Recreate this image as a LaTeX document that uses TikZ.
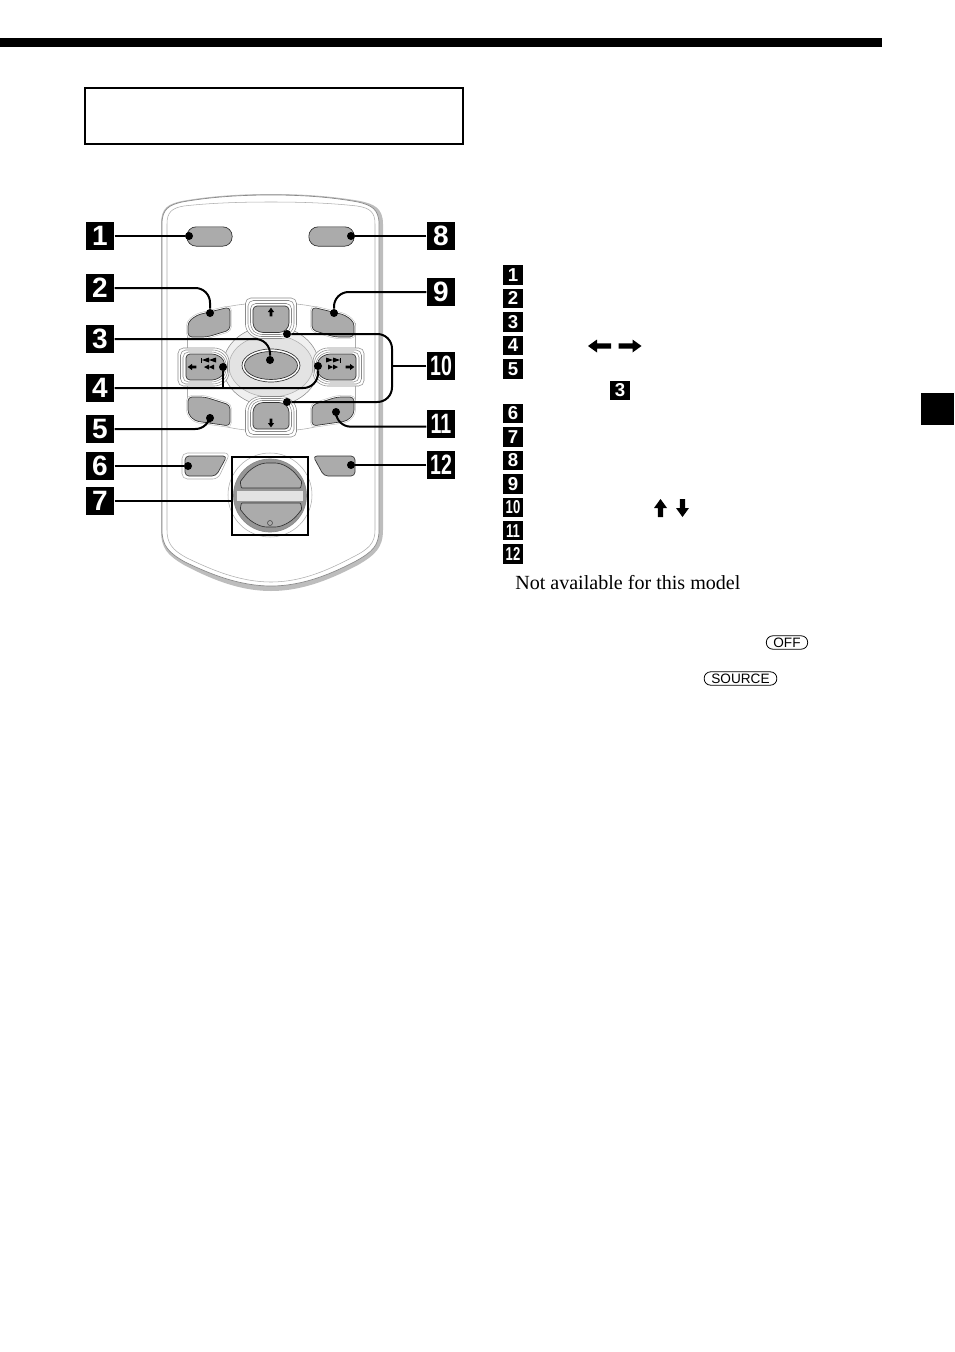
\documentclass[tikz,border=0pt]{standalone}
\usepackage{fontspec}
\setmainfont{Liberation Serif}
\setsansfont{Liberation Sans}
\usetikzlibrary{positioning}

\definecolor{keygray}{HTML}{ABABAB}
\definecolor{ringgray}{HTML}{8A8A8A}
\definecolor{palegray}{HTML}{E3E3E3}
\definecolor{shadegray}{HTML}{BDBDBD}

% fat arrow, args: x, y, angle, half length, scale
\newcommand{\fatarrow}[5]{%
  \fill[black,shift={(#1,#2)},rotate=#3,scale=#5] (-#4,-2.7) -- (#4-9,-2.7) -- (#4-9,-6.5) -- (#4,0)
    -- (#4-9,6.5) -- (#4-9,2.7) -- (-#4,2.7) -- cycle;}
% up and down key, args: center y, yscale
\newcommand{\vkey}[2]{%
  \begin{scope}[shift={(271,#1)},yscale=#2]
    \draw[keyring] (-25.5,-20) -- (25.5,-20) -- (25.5,12) -- (16,20.5) -- (-16,20.5) -- (-25.5,12) -- cycle;
    \draw[keyring] (-23,-17.5) -- (23,-17.5) -- (23,11) -- (15,18.5) -- (-15,18.5) -- (-23,11) -- cycle;
    \draw[keyring] (-20.5,-14.5) -- (20.5,-14.5) -- (20.5,10) -- (14,16.5) -- (-14,16.5) -- (-20.5,10) -- cycle;
    \draw[keyface] (-18,-12) -- (18,-12) -- (18,9) -- (12,14.5) -- (-12,14.5) -- (-18,9) -- cycle;
    \fatarrow{0}{-6}{90}{9}{0.48}
  \end{scope}}
% left and right key, args: center x, xscale
\newcommand{\hkey}[2]{%
  \begin{scope}[shift={(#1,367)},xscale=#2]
    \draw[keyring] (-25,-19) -- (17,-19) -- (26,-11) -- (26,11) -- (17,19) -- (-25,19) -- cycle;
    \draw[keyring] (-22.5,-17) -- (15.5,-17) -- (24.5,-9.5) -- (24.5,9.5) -- (15.5,17) -- (-22.5,17) -- cycle;
    \draw[keyring] (-20,-15) -- (14,-15) -- (23,-8) -- (23,8) -- (14,15) -- (-20,15) -- cycle;
    \draw[keyface] (-17,-13) -- (13,-13) -- (21.5,-7) -- (21.5,7) -- (13,13) -- (-17,13) -- cycle;
    \fatarrow{-11}{0}{180}{9}{0.48}
    \fill (-2,-9.5) rectangle (-1,-4.5);
    \fill (-1,-7) -- (6,-9.5) -- (6,-4.5) -- cycle (6,-7) -- (13,-9.5) -- (13,-4.5) -- cycle;
    \fill (1,0) -- (6,-2.5) -- (6,2.5) -- cycle (6,0) -- (11,-2.5) -- (11,2.5) -- cycle;
  \end{scope}}

\begin{document}
\begin{tikzpicture}[x=0.75pt,y=-0.75pt,node distance=17.6pt,
                    every node/.style={inner sep=0pt}]
  \tikzstyle{bigmark}=[fill=black,text=white,minimum size=21.4pt,font=\sffamily\bfseries\fontsize{21}{21}\selectfont]
  \tikzstyle{smallmark}=[fill=black,text=white,minimum size=14.6pt,font=\sffamily\bfseries\fontsize{14}{14}\selectfont]
  \tikzstyle{dot}=[circle,fill=black,minimum size=6pt]
  \tikzstyle{leader}=[draw=black,line width=1.5pt,rounded corners=11pt]
  \tikzstyle{keyface}=[draw=black!80,fill=keygray,line width=0.5pt,rounded corners=3pt]
  \tikzstyle{keyring}=[draw=ringgray,fill=white,line width=0.4pt,rounded corners=4pt]
  \tikzstyle{cornerkey}=[keyface,preaction={draw=ringgray!60,line width=2.6pt},preaction={draw=white,line width=1.9pt}]
  \tikzstyle{thinline}=[draw=ringgray!70,line width=0.4pt]
  \tikzstyle{capkey}=[draw=black,line width=0.6pt,rounded corners=4.8pt,font=\sffamily\fontsize{10.2}{10.2}\selectfont]

  \useasboundingbox (0,0) rectangle (954,1352);

  % page furniture
  \fill[black] (0,38) rectangle (882,47);
  \fill[black] (921,393) rectangle (954,425);
  \node[draw=black,line width=1.5pt,minimum width=284pt,minimum height=42.5pt] (titlebox) at (274,116) {};

  % remote body
  \fill[shadegray] (161,224) .. controls (161,208) and (168,204) .. (182,201)
    .. controls (210,196) and (240,194) .. (271,194) .. controls (302,194) and (332,196) .. (360,201)
    .. controls (374,204) and (383,208) .. (383,224) -- (383,530) .. controls (383,548) and (375,555) .. (358,565)
    .. controls (335,577) and (305,591) .. (271,591) .. controls (237,591) and (207,577) .. (184,565)
    .. controls (167,555) and (161,548) .. (161,530) -- cycle;
  \draw[draw=ringgray,fill=white,line width=0.5pt] (162,224) .. controls (162,209) and (169,205) .. (182,202)
    .. controls (210,197) and (240,195) .. (271,195) .. controls (302,195) and (331,197) .. (358,202)
    .. controls (371,205) and (379,209) .. (379,224) -- (379,530) .. controls (379,546) and (372,552) .. (356,561)
    .. controls (333,573) and (304,586) .. (271,586) .. controls (238,586) and (208,573) .. (185,562)
    .. controls (169,553) and (162,546) .. (162,530) -- cycle;
  \draw[thinline] (167,224) .. controls (167,212) and (172,208) .. (184,206)
    .. controls (210,203) and (240,202) .. (271,202) .. controls (302,202) and (330,203) .. (357,206)
    .. controls (370,208) and (375,212) .. (375,224) -- (375,530) .. controls (375,543) and (369,549) .. (353,557)
    .. controls (330,569) and (303,582) .. (271,582) .. controls (239,582) and (210,569) .. (187,558)
    .. controls (172,550) and (167,543) .. (167,530) -- cycle;

  % top keys
  \node[draw=black!80,fill=keygray,line width=0.5pt,rounded corners=7pt,minimum width=34pt,minimum height=14.5pt] (offkey) at (209.5,236.5) {};
  \node[draw=black!80,fill=keygray,line width=0.5pt,rounded corners=7pt,minimum width=34pt,minimum height=14.5pt] (sourcekey) at (331.5,236.5) {};

  % pad around the cross
  \draw[thinline] (187,323) .. controls (205,311) and (225,306) .. (246,304);
  \draw[thinline] (355,323) .. controls (337,311) and (317,306) .. (296,304);
  \draw[thinline] (187,410) .. controls (205,422) and (225,428) .. (246,430);
  \draw[thinline] (355,410) .. controls (337,422) and (317,428) .. (296,430);
  \draw[thinline] (187,323) -- (187,348) (187,386) -- (187,410) (355,323) -- (355,348) (355,386) -- (355,410);
  \draw[draw=ringgray,fill=palegray!55,line width=0.4pt] (271,366) ellipse (48 and 40);
  \draw[draw=ringgray!70,fill=palegray,line width=0.4pt] (271,366) ellipse (42 and 31);
  \draw[keyface,fill=white] (271,365.5) ellipse (29 and 16.5);
  \draw[keyface] (271,365.5) ellipse (26.5 and 14);

  \vkey{318}{1}
  \vkey{417}{-1}
  \hkey{203}{1}
  \hkey{339}{-1}

  % corner keys
  \draw[cornerkey] (188,322) -- (197,315) -- (230,307) -- (230,330) -- (207,337) -- (188,337) -- cycle;
  \draw[cornerkey] (354,322) -- (345,315) -- (312,307) -- (312,330) -- (335,337) -- (354,337) -- cycle;
  \draw[cornerkey] (188,397) -- (205,397) -- (230,405) -- (230,426) -- (195,421) -- (188,414) -- cycle;
  \draw[cornerkey] (354,397) -- (337,397) -- (312,405) -- (312,426) -- (347,421) -- (354,414) -- cycle;
  \draw[thinline,rounded corners=4pt] (182,453) -- (230,453) -- (218,479) -- (182,479) -- cycle;
  \draw[keyface] (185,456) -- (227,456) -- (216,476) -- (185,476) -- cycle;
  \draw[keyface] (355,456) -- (313,456) -- (324,476) -- (355,476) -- cycle;

  % volume dial
  \draw[thinline] (270,495) circle (42);
  \draw[draw=ringgray,fill=ringgray!90,line width=0.5pt] (270,495.5) circle (36.5);
  \fill[palegray] (237,490.5) rectangle (303,500.5);
  \draw[keyface] (246,488) .. controls (241,488) and (240,482) .. (243,478) .. controls (251,468) and (260,463) .. (271,463)
    .. controls (282,463) and (291,468) .. (299,478) .. controls (302,482) and (301,488) .. (296,488) -- cycle;
  \draw[keyface] (246,503) .. controls (241,503) and (240,509) .. (243,513) .. controls (251,522) and (260,527) .. (271,527)
    .. controls (282,527) and (291,522) .. (299,513) .. controls (302,509) and (301,503) .. (296,503) -- cycle;
  \draw[black!75,line width=0.4pt] (270,523) circle (2.5);
  \node[draw=black,line width=1.5pt,minimum width=57pt,minimum height=58pt] (dialbox) at (270,496) {};

  % callouts on the remote
  \node[bigmark] (b1) at (100,236) {1};
  \node[bigmark] (b2) at (100,288) {2};
  \node[bigmark] (b3) at (100,339) {3};
  \node[bigmark] (b4) at (100,388) {4};
  \node[bigmark] (b5) at (100,429) {5};
  \node[bigmark] (b6) at (100,466) {6};
  \node[bigmark] (b7) at (100,501) {7};
  \node[bigmark] (b8) at (441,236) {8};
  \node[bigmark] (b9) at (441,292) {9};
  \node[bigmark] (b10) at (441,366) {\scalebox{0.7}[1]{10}};
  \node[bigmark] (b11) at (441,424) {\scalebox{0.7}[1]{11}};
  \node[bigmark] (b12) at (441,465) {\scalebox{0.7}[1]{12}};

  \node[dot] (d1) at (189,236) {};
  \node[dot] (d2) at (210,313) {};
  \node[dot] (d3) at (270,360) {};
  \node[dot] (d4a) at (223,367) {};
  \node[dot] (d4b) at (318,366) {};
  \node[dot] (d5) at (210,418) {};
  \node[dot] (d6) at (188,466) {};
  \node[dot] (d8) at (351,236) {};
  \node[dot] (d9) at (334,313) {};
  \node[dot] (d10a) at (287,334) {};
  \node[dot] (d10b) at (287,402) {};
  \node[dot] (d11) at (336,412) {};
  \node[dot] (d12) at (351,465) {};
  \coordinate (j10) at (392,366);

  \path[leader] (b1) -- (d1);
  \path[leader] (b2) -| (d2);
  \path[leader] (b3) -| (d3);
  \path[leader] (b4) -| (d4b);
  \path[leader,sharp corners] (d4a) -- (d4a |- b4);
  \path[leader] (b5) -| (d5);
  \path[leader] (b6) -- (d6);
  \path[leader] (b7) -- (b7 -| dialbox.west);
  \path[leader] (b8) -- (d8);
  \path[leader] (b9) -| (d9);
  \path[leader] (d10a) -| (j10) |- (d10b);
  \path[leader] (b10) -- (j10);
  \path[leader] ([yshift=-2pt]b11.west) -| (d11);
  \path[leader] (b12) -- (d12);

  % list of marks on the right
  \node[smallmark] (k1) at (513,275) {1};
  \node[smallmark] (k2) [below of=k1] {2};
  \node[smallmark] (k3) [below of=k2] {3};
  \node[smallmark] (k4) [below of=k3] {4};
  \node[smallmark] (k5) [below of=k4] {5};
  \node[smallmark] (k6) [below of=k5,node distance=33.4pt] {6};
  \node[smallmark] (k7) [below of=k6] {7};
  \node[smallmark] (k8) [below of=k7] {8};
  \node[smallmark] (k9) [below of=k8] {9};
  \node[smallmark] (k10) [below of=k9] {\scalebox{0.7}[1]{10}};
  \node[smallmark] (k11) [below of=k10] {\scalebox{0.7}[1]{11}};
  \node[smallmark] (k12) [below of=k11] {\scalebox{0.7}[1]{12}};
  \node[smallmark] (kref) at (620,390.5) {3};

  \fatarrow{599.5}{346}{180}{11.5}{1}
  \fatarrow{630}{346}{0}{11.5}{1}
  \fatarrow{660.5}{508}{90}{9}{1}
  \fatarrow{682.5}{508}{-90}{9}{1}

  \node[anchor=base west,font=\fontsize{15.05}{15.05}\selectfont] (note) at (515,589) {Not available for this model};

  \node[capkey,minimum width=31pt,minimum height=10pt] (offcap) at (787,642.5) {OFF};
  \node[capkey,minimum width=54.5pt,minimum height=10pt] (sourcecap) at (740.5,678.5) {SOURCE};
\end{tikzpicture}
\end{document}
